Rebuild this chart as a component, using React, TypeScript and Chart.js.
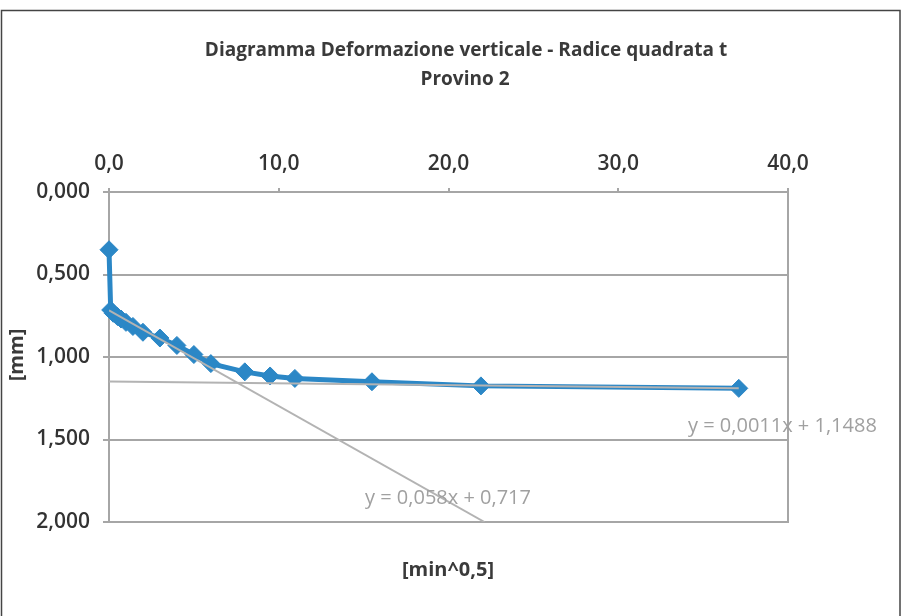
import React, { useEffect, useRef } from "react";
import { Chart, registerables } from "chart.js";

Chart.register(...registerables);

const titleLines = ["Diagramma Deformazione verticale - Radice quadrata t", "Provino 2"];
const xAxisTitle = "[min^0,5]";
const yAxisTitle = "[mm]";

// sqrt(time) [min^0.5]
const rootTime = [0, 0.1, 0.25, 0.5, 0.71, 1.0, 1.41, 2.0, 3.0, 4.0, 5.0, 6.0, 8.0, 9.49, 10.95, 15.49, 21.91, 37.1];
// vertical deformation [mm]
const deformation = [0.35, 0.715, 0.735, 0.755, 0.77, 0.79, 0.815, 0.85, 0.885, 0.93, 0.985, 1.04, 1.09, 1.115, 1.13, 1.15, 1.175, 1.19];

// trendline end points
const trend1X = [0, 22.12];
const trend1Y = [0.717, 2.0];
const trend2X = [0, 37.1];
const trend2Y = [1.1488, 1.1896];
const trend1Label = "y = 0,058x + 0,717";
const trend2Label = "y = 0,0011x + 1,1488";

const fmt = (v: number, d: number) => v.toFixed(d).replace(".", ",");

const LEFT = 109;
const TOP = 192;
const RIGHT = 788;
const BOTTOM = 522;

export default function App() {
  const ref = useRef<HTMLCanvasElement | null>(null);
  useEffect(() => {
    if (!ref.current) return;
    const textPlugin = {
      id: "texts",
      beforeDraw(chart: any) {
        const ctx = chart.ctx;
        ctx.save();
        ctx.fillStyle = "#ffffff";
        ctx.fillRect(0, 0, chart.width, chart.height);
        ctx.strokeStyle = "#444";
        ctx.lineWidth = 1.5;
        ctx.strokeRect(1.5, 10.5, 898.5, 700);
        ctx.restore();
      },
      afterDatasetsDraw(chart: any) {
        const ctx = chart.ctx;
        const ca = chart.chartArea;
        ctx.save();
        ctx.strokeStyle = "#a6a6a6";
        ctx.lineWidth = 2;
        ctx.beginPath();
        ctx.moveTo(ca.right, ca.top - 4);
        ctx.lineTo(ca.right, ca.bottom + 1);
        ctx.stroke();
        ctx.restore();
      },
      afterDraw(chart: any) {
        const ctx = chart.ctx;
        ctx.save();
        ctx.textAlign = "center";
        ctx.textBaseline = "middle";
        ctx.fillStyle = "#3a3a3a";
        ctx.font = "bold 19px 'Open Sans'";
        ctx.fillText(titleLines[0], 466, 51);
        ctx.fillText(titleLines[1], 465, 80);
        ctx.font = "bold 20px 'Open Sans'";
        ctx.fillText(xAxisTitle, 448, 570);
        ctx.save();
        ctx.translate(17, 355);
        ctx.rotate(-Math.PI / 2);
        ctx.fillText(yAxisTitle, 0, 0);
        ctx.restore();
        ctx.fillStyle = "#a0a0a0";
        ctx.font = "20px 'Open Sans'";
        ctx.textAlign = "left";
        ctx.fillText(trend2Label, 688, 426);
        ctx.fillText(trend1Label, 365, 498);
        ctx.restore();
      },
    };
    const chart = new Chart(ref.current, {
      type: "scatter",
      data: {
        datasets: [
          {
            label: "trend1",
            data: trend1X.map((x, i) => ({ x, y: trend1Y[i] })),
            showLine: true,
            borderColor: "#b3b3b3",
            borderWidth: 2,
            pointRadius: 0,
            order: 0,
          },
          {
            label: "trend2",
            data: trend2X.map((x, i) => ({ x, y: trend2Y[i] })),
            showLine: true,
            borderColor: "#b3b3b3",
            borderWidth: 2,
            pointRadius: 0,
            order: 0,
          },
          {
            label: "Provino 2",
            data: rootTime.map((x, i) => ({ x, y: deformation[i] })),
            showLine: true,
            clip: false,
            borderColor: "#2B87C6",
            backgroundColor: "#2B87C6",
            borderWidth: 5,
            pointStyle: "rectRot",
            pointRadius: 9,
            pointBorderWidth: 1,
            order: 1,
          },
        ],
      },
      options: {
        responsive: true,
        maintainAspectRatio: false,
        animation: false,
        events: [],
        layout: { padding: { left: 0, top: 0, right: 906 - RIGHT, bottom: 616 - BOTTOM } },
        plugins: {
          legend: { display: false },
          title: { display: false },
          tooltip: { enabled: false },
        },
        scales: {
          x: {
            type: "linear",
            position: "top",
            min: 0,
            max: 40,
            ticks: {
              stepSize: 10,
              padding: 11,
              color: "#333",
              font: { family: "'Open Sans'", size: 21, weight: 600 },
              callback: (v: any) => fmt(Number(v), 1),
            },
            grid: { drawOnChartArea: false, drawTicks: true, tickLength: 4, color: "#a6a6a6", lineWidth: 2 },
            border: { display: true, color: "#a6a6a6", width: 2 },
            afterFit: (s: any) => {
              s.height = TOP;
            },
          },
          y: {
            type: "linear",
            reverse: true,
            min: 0,
            max: 2,
            ticks: {
              stepSize: 0.5,
              padding: 13,
              color: "#333",
              font: { family: "'Open Sans'", size: 21, weight: 600 },
              callback: (v: any) => fmt(Number(v), 3),
            },
            grid: { color: "#a6a6a6", lineWidth: 2, tickLength: 6 },
            border: { display: true, color: "#a6a6a6", width: 2 },
            afterFit: (s: any) => {
              s.width = LEFT;
            },
          },
        },
      },
      plugins: [textPlugin],
    } as any);
    return () => chart.destroy();
  }, []);
  return (
    <div style={{ position: "fixed", left: 0, top: 0, width: 906, height: 616, background: "#fff" }}>
      <canvas ref={ref} />
    </div>
  );
}
